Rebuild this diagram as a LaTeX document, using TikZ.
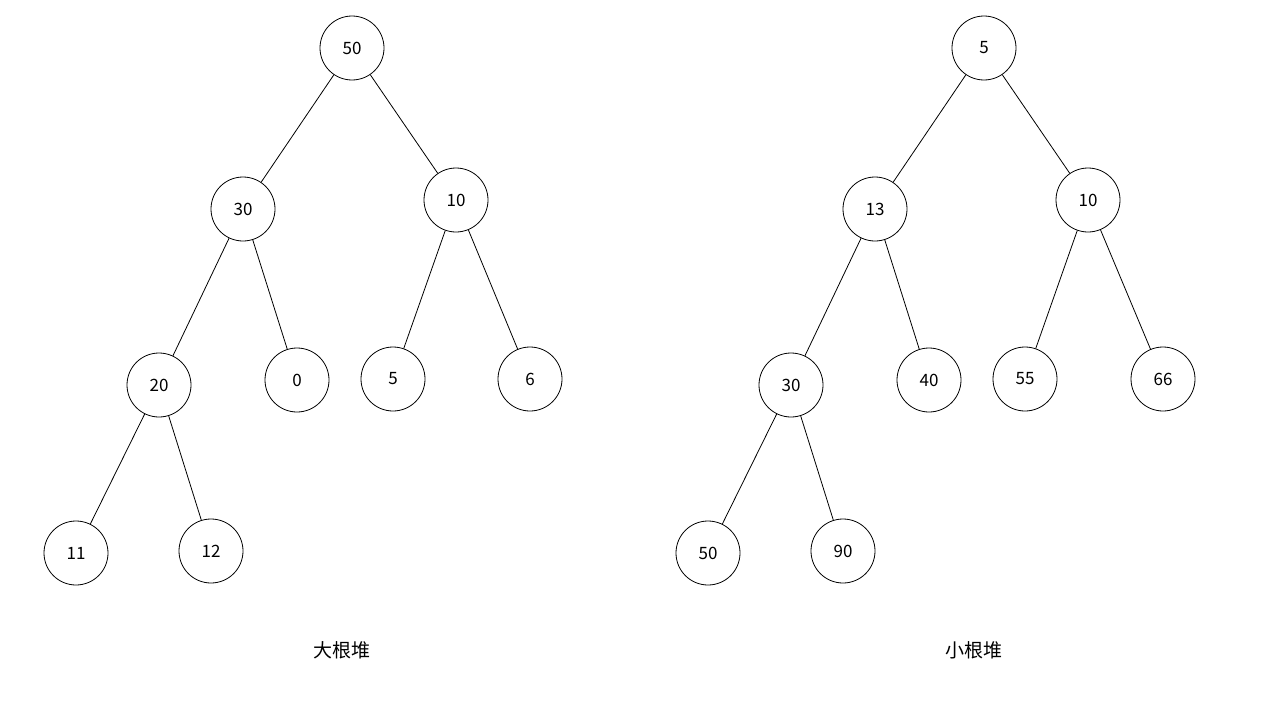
\documentclass[tikz,border=0pt]{standalone}
\usepackage{fontspec}
\setmainfont{Noto Sans CJK SC}
\begin{document}
\begin{tikzpicture}[x=1pt,y=-1pt,
  hn/.style={circle,draw,line width=0.8pt,minimum size=64pt,inner sep=0pt,font=\fontsize{17}{20}\selectfont},
  ed/.style={line width=0.8pt},
  lab/.style={font=\fontsize{19}{22}\selectfont}]
\useasboundingbox (0,0) rectangle (1280,720);
\node[hn] (a50) at (352,48) {50};
\node[hn] (a30) at (243,209) {30};
\node[hn] (a10) at (456,200) {10};
\node[hn] (a20) at (159,385) {20};
\node[hn] (a0) at (297,380) {0};
\node[hn] (a5) at (393,379) {5};
\node[hn] (a6) at (530,379) {6};
\node[hn] (a11) at (76,553) {11};
\node[hn] (a12) at (211,551) {12};
\draw[ed] (a50)--(a30); \draw[ed] (a50)--(a10);
\draw[ed] (a30)--(a20); \draw[ed] (a30)--(a0);
\draw[ed] (a10)--(a5); \draw[ed] (a10)--(a6);
\draw[ed] (a20)--(a11); \draw[ed] (a20)--(a12);
\node[hn] (b5) at (984,48) {5};
\node[hn] (b13) at (875,209) {13};
\node[hn] (b10) at (1088,200) {10};
\node[hn] (b30) at (791,385) {30};
\node[hn] (b40) at (929,380) {40};
\node[hn] (b55) at (1025,379) {55};
\node[hn] (b66) at (1163,379) {66};
\node[hn] (b50) at (708,553) {50};
\node[hn] (b90) at (843,551) {90};
\draw[ed] (b5)--(b13); \draw[ed] (b5)--(b10);
\draw[ed] (b13)--(b30); \draw[ed] (b13)--(b40);
\draw[ed] (b10)--(b55); \draw[ed] (b10)--(b66);
\draw[ed] (b30)--(b50); \draw[ed] (b30)--(b90);
\node[lab] (l1) at (342,650) {大根堆};
\node[lab] (l2) at (974,650) {小根堆};
\end{tikzpicture}
\end{document}
